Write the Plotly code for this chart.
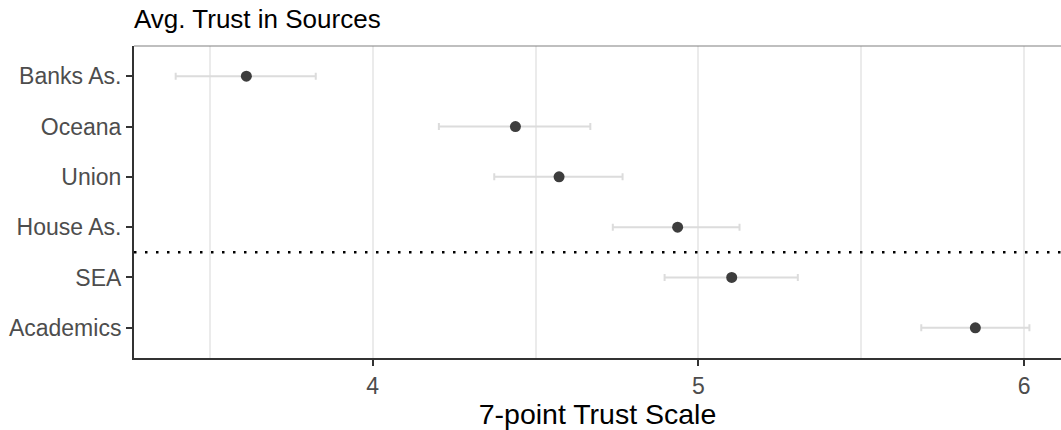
import plotly.graph_objects as go

# Average trust per information source, with lower/upper interval bounds
sources = ["Banks As.", "Oceana", "Union", "House As.", "SEA", "Academics"]
mean_trust = [3.612, 4.438, 4.572, 4.936, 5.102, 5.850]
ci_low = [3.395, 4.203, 4.373, 4.737, 4.896, 5.684]
ci_high = [3.825, 4.668, 4.767, 5.126, 5.305, 6.016]

# y positions: first source at the top
y_pos = list(range(len(sources), 0, -1))

err_plus = [h - m for h, m in zip(ci_high, mean_trust)]
err_minus = [m - l for m, l in zip(mean_trust, ci_low)]

W, H = 1061, 430
ML, MT, MB = 134, 46, 72

fig = go.Figure()

fig.add_trace(go.Scatter(
    x=mean_trust, y=y_pos, mode="markers",
    marker=dict(size=11, color="#3d3d3d", line=dict(width=0)),
    error_x=dict(type="data", symmetric=False, array=err_plus, arrayminus=err_minus,
                 color="#dcdcdc", thickness=2, width=3.5),
    showlegend=False, hoverinfo="x+y",
))

# separator between the first four sources and the last two
fig.add_shape(type="line", xref="paper", x0=0, x1=1, yref="y", y0=2.5, y1=2.5,
              line=dict(color="black", width=2.5, dash="2.5px,8.5px"), layer="above")

# thin grey top border of the panel
fig.add_shape(type="line", xref="paper", x0=0, x1=1, yref="paper", y0=1, y1=1,
              line=dict(color="#808080", width=1.2), layer="above")

fig.update_layout(
    width=W, height=H,
    margin=dict(l=ML, r=0, t=MT, b=MB, pad=0),
    paper_bgcolor="white", plot_bgcolor="white",
    font=dict(family="Liberation Sans, Arial, sans-serif", color="#4d4d4d"),
    title=dict(text="Avg. Trust in Sources", font=dict(size=26, color="black"),
               xref="container", x=134 / W, xanchor="left",
               yref="container", y=1 - 19 / H, yanchor="middle"),
    xaxis=dict(
        range=[3.267, 6.113], tickvals=[4, 5, 6], ticktext=["4", "5", "6"],
        showgrid=True, gridcolor="#ebebeb", gridwidth=1.5,
        minor=dict(tickvals=[3.5, 4.5, 5.5], showgrid=True, gridcolor="#ebebeb",
                   gridwidth=1.5, ticks=""),
        showline=True, linecolor="#333333", linewidth=2,
        ticks="outside", ticklen=6, tickwidth=2, tickcolor="#333333",
        tickfont=dict(size=23, color="#4d4d4d"),
        title=dict(text="7-point Trust Scale", font=dict(size=28.5, color="black"), standoff=3),
        zeroline=False,
    ),
    yaxis=dict(
        range=[0.4, 6.6], tickvals=y_pos, ticktext=sources,
        showgrid=False, zeroline=False,
        showline=True, linecolor="#333333", linewidth=2,
        ticks="outside", ticklen=6, tickwidth=2, tickcolor="#333333",
        tickfont=dict(size=23, color="#4d4d4d"),
    ),
)

fig.write_html("out.html")
